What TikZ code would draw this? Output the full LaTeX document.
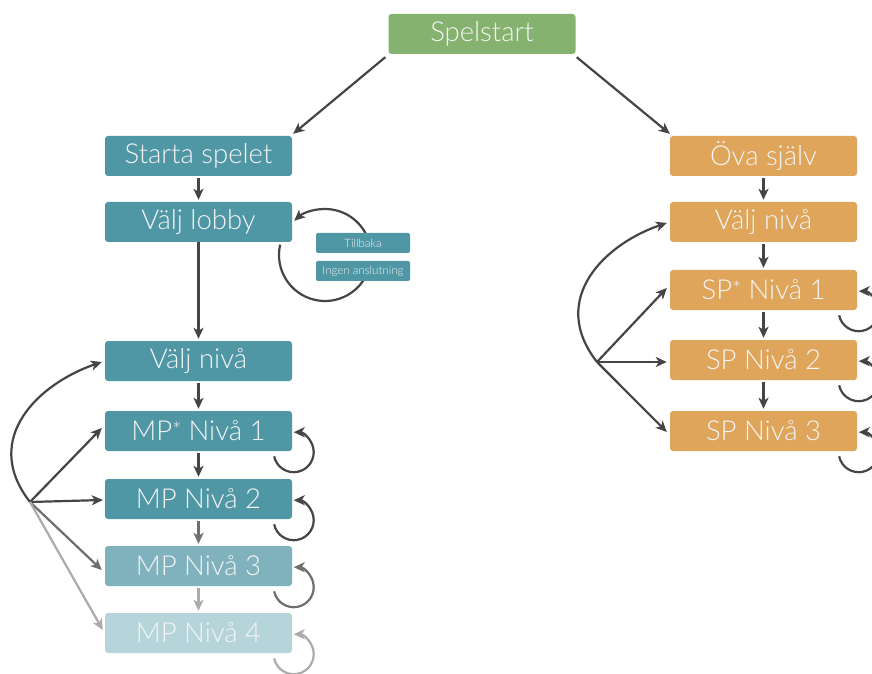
\documentclass[tikz,border=0pt]{standalone}
\usepackage{fontspec}
\setmainfont{Lato Light}
\usetikzlibrary{arrows.meta,calc}

\definecolor{startgreen}{HTML}{85B26F}
\definecolor{mpteal}{HTML}{5097A5}
\definecolor{mptealB}{HTML}{80B2BE}
\definecolor{mptealC}{HTML}{B5D5DB}
\definecolor{sporange}{HTML}{DEA55B}
\definecolor{linedark}{HTML}{454545}
\definecolor{linemid}{HTML}{6E6E6E}
\definecolor{linelight}{HTML}{ABABAB}
\definecolor{textwhite}{HTML}{F4F4F4}

\tikzset{
  box/.style={rectangle, rounded corners=3pt, minimum width=187pt, minimum height=40pt,
    inner sep=0pt, text=textwhite, font=\fontsize{27.5}{30}\selectfont},
  smallbox/.style={rectangle, rounded corners=2pt, minimum width=94pt, minimum height=20pt,
    inner sep=0pt, fill=mpteal, text=textwhite, font=\fontsize{11.5}{13}\selectfont},
  conn/.style={line width=2.2pt, draw=linedark,
    -{Stealth[length=11pt,width=10pt,inset=3pt]}},
  plain/.style={line width=2.2pt, draw=linedark},
}
% raised asterisk after MP / SP
\newcommand{\lvlstar}{\raisebox{0.25ex}{\fontsize{21}{21}\selectfont *}}

\begin{document}
\begin{tikzpicture}[x=1pt,y=1pt]
  \useasboundingbox[fill=white] (0,0) rectangle (872,673);

  % top of the flow
  \node[box, fill=startgreen] (start) at (482,639) {Spelstart};

  % multiplayer branch
  \node[box, fill=mpteal] (starta) at (198.5,517) {Starta spelet};
  \node[box, fill=mpteal] (lobby)  at (198.5,451) {Välj lobby};
  \node[box, fill=mpteal] (mpval)  at (198.5,312) {Välj nivå};
  \node[box, fill=mpteal] (mp1)    at (198.5,242) {MP\lvlstar{} Nivå 1};
  \node[box, fill=mpteal] (mp2)    at (198.5,174) {MP Nivå 2};
  \node[box, fill=mptealB] (mp3)   at (198.5,107) {MP Nivå 3};
  \node[box, fill=mptealC] (mp4)   at (198.5,40)  {MP Nivå 4};

  % single player branch
  \node[box, fill=sporange] (ova)   at (763.5,517) {Öva själv};
  \node[box, fill=sporange] (spval) at (763.5,451) {Välj nivå};
  \node[box, fill=sporange] (sp1)   at (763.5,383) {SP\lvlstar{} Nivå 1};
  \node[box, fill=sporange] (sp2)   at (763.5,313) {SP Nivå 2};
  \node[box, fill=sporange] (sp3)   at (763.5,242) {SP Nivå 3};

  % lobby loop, drawn behind the two small buttons
  \coordinate (lc) at (325,418);
  \draw[plain] ($(lc)+(167:46)$) arc[start angle=167, end angle=330, radius=46];
  \draw[conn] ($(lc)+(25:46)$) arc[start angle=25, end angle=132, radius=46];
  \node[smallbox] (tillbaka) at (363,430) {Tillbaka};
  \node[smallbox] (ingen)    at (363,402) {Ingen anslutning};

  % branches from the start
  \draw[conn] ([shift={(-3,-3)}]start.south west) -- ([shift={(1,2)}]starta.north east);
  \draw[conn] ([shift={(1,-3)}]start.south east) -- ([shift={(0,2)}]ova.north west);

  % vertical steps, multiplayer
  \draw[conn, shorten <=2pt, shorten >=2pt] (starta.south) -- (lobby.north);
  \draw[conn, shorten >=2pt] (lobby.south) -- (mpval.north);
  \draw[conn, shorten <=2pt, shorten >=2pt] (mpval.south) -- (mp1.north);
  \draw[conn, shorten <=2pt, shorten >=2pt] (mp1.south) -- (mp2.north);
  \draw[conn, draw=linemid, shorten <=2pt, shorten >=2pt] (mp2.south) -- (mp3.north);
  \draw[conn, draw=linelight, shorten <=2pt, shorten >=2pt] (mp3.south) -- (mp4.north);

  % vertical steps, single player
  \draw[conn, shorten <=2pt, shorten >=2pt] (ova.south) -- (spval.north);
  \draw[conn, shorten <=2pt, shorten >=2pt] (spval.south) -- (sp1.north);
  \draw[conn, shorten <=2pt, shorten >=2pt] (sp1.south) -- (sp2.north);
  \draw[conn, shorten <=2pt, shorten >=2pt] (sp2.south) -- (sp3.north);

  % level hub, multiplayer
  \coordinate (mphub) at (30,171);
  \draw[conn] (mphub) .. controls ($(mphub)+(-50,64)$) and ($(mphub)+(10,119)$) .. ([shift={(-3,-1)}]mpval.west);
  \draw[conn] (mphub) -- ([shift={(-3,3)}]mp1.west);
  \draw[conn] (mphub) -- ([shift={(-2,-1)}]mp2.west);
  \draw[conn, draw=linemid] (mphub) -- ([shift={(-3,-4)}]mp3.west);
  \draw[conn, draw=linelight] (mphub) -- ([shift={(-2,3)}]mp4.west);

  % level hub, single player
  \coordinate (sphub) at (597,311);
  \draw[conn] (sphub) .. controls ($(sphub)+(-50,64)$) and ($(sphub)+(10,119)$) .. ([shift={(-3,-1)}]spval.west);
  \draw[conn] (sphub) -- ([shift={(-3,2)}]sp1.west);
  \draw[conn] (sphub) -- ([shift={(-3,-2)}]sp2.west);
  \draw[conn] (sphub) -- ([shift={(-3,-1)}]sp3.west);

  % replay loops on each level
  \foreach \n/\c in {mp1/linedark, mp2/linedark, mp3/linemid, mp4/linelight,
                     sp1/linedark, sp2/linedark, sp3/linedark}{
    \draw[conn, draw=\c] ($(\n.south east)+(1.5,-1)+(192:20)$) arc[start angle=192, end angle=450, radius=20];
  }
\end{tikzpicture}
\end{document}
